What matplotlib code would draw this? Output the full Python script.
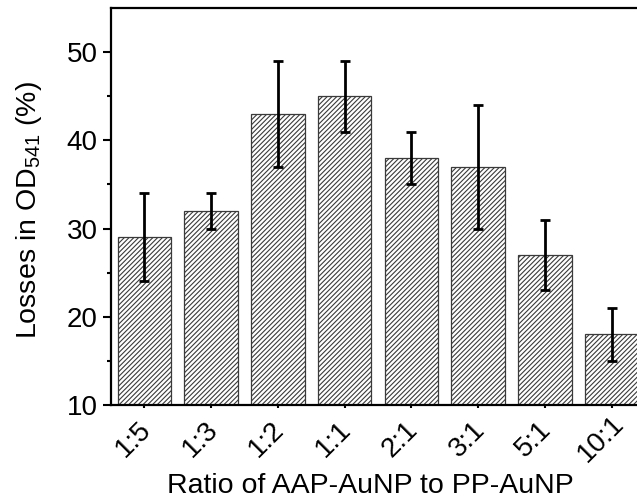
import matplotlib
matplotlib.use("Agg")
import matplotlib.pyplot as plt
import matplotlib.transforms as mtransforms
import numpy as np

# ratio of AAP-AuNP to PP-AuNP, losses in OD541 (%) and error
ratios = ["1:5", "1:3", "1:2", "1:1", "2:1", "3:1", "5:1", "10:1"]
losses = [29, 32, 43, 45, 38, 37, 27, 18]
errors = [5, 2, 6, 4, 3, 7, 4, 3]

plt.rcParams['font.family'] = ['Liberation Sans', 'DejaVu Sans']
plt.rcParams['mathtext.fontset'] = 'custom'
plt.rcParams['mathtext.rm'] = 'Liberation Sans'
plt.rcParams['mathtext.default'] = 'regular'
plt.rcParams['hatch.linewidth'] = 0.8

fig = plt.figure(figsize=(6.37, 5.01), dpi=100)
ax = fig.add_axes([111/637, 96/501, 534/637, 397/501])

x = np.arange(len(ratios))
ax.bar(x, losses, width=0.8, bottom=0, color='white', edgecolor='#3a3a3a',
       linewidth=0.9, hatch='///////')
ax.errorbar(x, losses, yerr=errors, fmt='none', ecolor='black',
            elinewidth=2.0, capsize=3.8, capthick=2.0)

ax.set_xlim(-0.5, 7.5)
ax.set_ylim(10, 55)
ax.set_yticks([10, 20, 30, 40, 50])
ax.set_yticks([15, 25, 35, 45], minor=True)
ax.set_xticks(x)

ax.tick_params(which='both', direction='out', width=1.5, labelsize=20)
ax.tick_params(axis='y', which='major', length=5.5, pad=4)
ax.tick_params(axis='y', which='minor', length=3.2)
ax.tick_params(axis='x', length=2.5, pad=0)

ax.set_xticklabels(ratios, rotation=45, ha='center', va='center')
# labels sit a bit left of and below their ticks, as in the original
offset = mtransforms.ScaledTranslation(-11/100, -30.5/100, fig.dpi_scale_trans)
for lbl in ax.get_xticklabels():
    lbl.set_transform(lbl.get_transform() + offset)

for s in ['left', 'bottom', 'top']:
    ax.spines[s].set_linewidth(1.6)
ax.spines['right'].set_visible(False)

ax.set_xlabel('Ratio of AAP-AuNP to PP-AuNP', fontsize=20.5)
ax.set_ylabel('Losses in OD$_{541}$ (%)', fontsize=20.5)
ax.xaxis.set_label_coords((370-111)/534, -0.172)
ax.yaxis.set_label_coords(-0.125, 0.49)

fig.savefig('out.png', dpi=100, facecolor='white')
